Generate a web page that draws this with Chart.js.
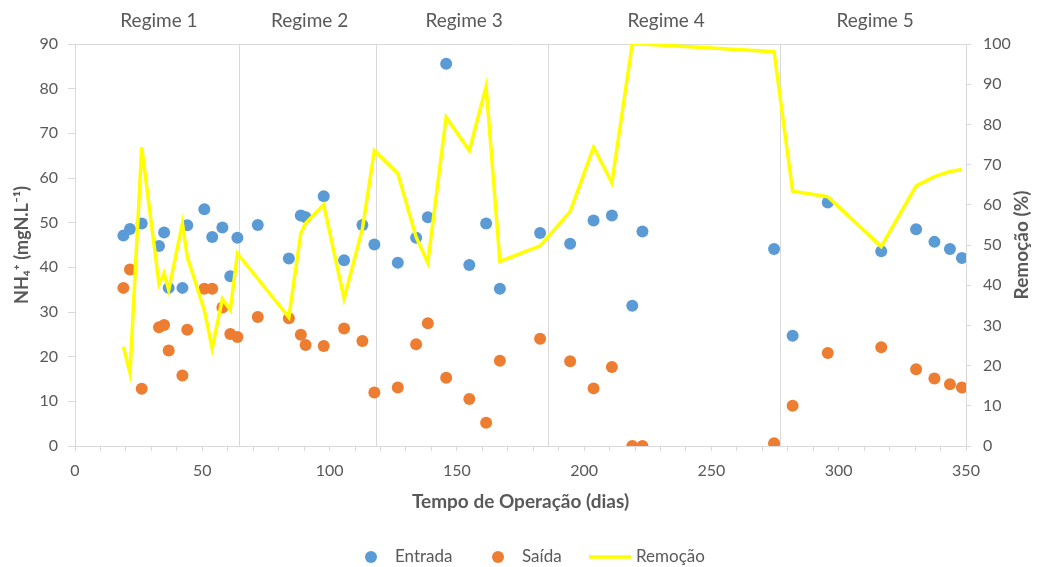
<!DOCTYPE html>
<html>
<head>
<meta charset="utf-8">
<script src="https://cdn.jsdelivr.net/npm/chart.js@4.4.1/dist/chart.umd.min.js"></script>
<style>
  html, body { margin: 0; padding: 0; background: #ffffff; }
  #wrap { width: 1044px; height: 567px; }
</style>
</head>
<body>
<div id="wrap"><canvas id="c" width="1044" height="567"></canvas></div>
<script>
// Sampling days (tempo de operação, dias)
const days = [19, 21.6, 26.2, 33, 35, 36.8, 42.2, 44.1, 50.8, 53.9, 57.9, 61, 63.8, 71.8,
  84, 88.7, 90.6, 97.7, 105.7, 112.9, 117.6, 126.8, 134, 138.6, 145.8, 154.9, 161.5, 166.9,
  182.7, 194.5, 203.7, 210.9, 218.9, 222.9, 274.6, 281.9, 295.7, 316.7, 330.4, 337.6, 343.7, 348.4];

// NH4+ afluente (mgN/L)
const entrada = [47.1, 48.6, 49.8, 44.8, 47.8, 35.4, 35.4, 49.4, 53.0, 46.8, 48.9, 38.0, 46.6, 49.5,
  42.0, 51.6, 51.2, 55.9, 41.6, 49.5, 45.1, 41.0, 46.6, 51.2, 85.6, 40.5, 49.8, 35.2,
  47.7, 45.3, 50.5, 51.6, 31.4, 48.0, 44.1, 24.7, 54.5, 43.6, 48.5, 45.7, 44.1, 42.1];

// NH4+ efluente (mgN/L)
const saida = [35.4, 39.5, 12.8, 26.6, 27.1, 21.4, 15.8, 26.0, 35.2, 35.2, 31.0, 25.1, 24.4, 28.9,
  28.6, 24.9, 22.6, 22.4, 26.3, 23.5, 12.0, 13.1, 22.8, 27.5, 15.3, 10.5, 5.2, 19.1,
  24.0, 19.0, 12.9, 17.7, 0, 0, 0.6, 9.0, 20.8, 22.1, 17.2, 15.1, 13.8, 13.1];

// Remoção de NH4+ (%)
const remocao = [24.7, 18.2, 74.3, 40.3, 43.0, 38.8, 55.4, 47.1, 33.8, 24.3, 36.6, 33.8, 47.9, 41.6,
  32.0, 52.9, 55.4, 60.0, 36.7, 54.0, 73.5, 67.8, 52.0, 45.6, 81.8, 73.5, 89.4, 45.9,
  49.8, 58.3, 74.3, 65.5, 100, 100, 98.1, 63.4, 62.0, 49.6, 64.7, 67.0, 68.3, 68.8];

// Regime changes (dias) and regime names
const regimeBounds = [64.4, 118.3, 185.8, 277];
const regimeNames = ['Regime 1', 'Regime 2', 'Regime 3', 'Regime 4', 'Regime 5'];

const xRange = [0, 350];
const xLabelStep = 50;
const yLeftRange = [0, 90];
const yRightRange = [0, 100];

const seriesNames = ['Entrada', 'Saída', 'Remoção'];
const colors = { entrada: '#5B9BD5', saida: '#ED7D31', remocao: '#FFFF00' };

const FONT = 'Lato, "Open Sans", "Liberation Sans", sans-serif';
const TEXT = '#595959';
const AXIS = '#D9D9D9';

const pts = (ys) => days.map((d, i) => ({ x: d, y: ys[i] }));

const decor = {
  id: 'decor',
  beforeDatasetsDraw(chart) {
    const { ctx, chartArea: a, scales: { x } } = chart;
    ctx.save();
    ctx.strokeStyle = AXIS;
    ctx.lineWidth = 1;
    ctx.beginPath();
    regimeBounds.forEach(b => {
      const px = Math.round(x.getPixelForValue(b)) + 0.5;
      ctx.moveTo(px, a.top);
      ctx.lineTo(px, a.bottom);
    });
    ctx.moveTo(a.left - 7, Math.round(a.top) + 0.5);
    ctx.lineTo(a.right + 5, Math.round(a.top) + 0.5);
    ctx.stroke();
    ctx.restore();
  },
  afterDraw(chart) {
    const { ctx, chartArea: a, scales: { x } } = chart;
    ctx.save();
    // regime labels
    ctx.fillStyle = TEXT;
    ctx.font = '19px ' + FONT;
    ctx.textAlign = 'center';
    ctx.textBaseline = 'middle';
    const edges = [xRange[0], ...regimeBounds, xRange[1]];
    regimeNames.forEach((n, i) => {
      const mid = (edges[i] + edges[i + 1]) / 2;
      ctx.fillText(n, x.getPixelForValue(mid) + 2, 21);
    });
    // right axis title
    ctx.font = 'bold 19px ' + FONT;
    ctx.translate(1022, (a.top + a.bottom) / 2);
    ctx.rotate(-Math.PI / 2);
    ctx.fillText('Remoção (%)', 0, 0);
    ctx.setTransform(1, 0, 0, 1, 0, 0);
    // legend
    const ly = 557;
    ctx.font = '17px ' + FONT;
    ctx.textAlign = 'left';
    ctx.fillStyle = colors.entrada;
    ctx.beginPath(); ctx.arc(371, ly, 6, 0, Math.PI * 2); ctx.fill();
    ctx.fillStyle = TEXT;
    ctx.fillText(seriesNames[0], 395, ly);
    ctx.fillStyle = colors.saida;
    ctx.beginPath(); ctx.arc(498, ly, 6, 0, Math.PI * 2); ctx.fill();
    ctx.fillStyle = TEXT;
    ctx.fillText(seriesNames[1], 522, ly);
    ctx.strokeStyle = colors.remocao;
    ctx.lineWidth = 3.5;
    ctx.beginPath(); ctx.moveTo(589, ly); ctx.lineTo(631, ly); ctx.stroke();
    ctx.fillStyle = TEXT;
    ctx.fillText(seriesNames[2], 636, ly);
    ctx.restore();
  }
};

new Chart(document.getElementById('c'), {
  type: 'scatter',
  data: {
    datasets: [
      {
        label: seriesNames[0], data: pts(entrada), yAxisID: 'y', order: 3,
        backgroundColor: colors.entrada, borderColor: colors.entrada,
        pointRadius: 6, pointBorderWidth: 0, showLine: false
      },
      {
        label: seriesNames[1], data: pts(saida), yAxisID: 'y', order: 2,
        backgroundColor: colors.saida, borderColor: colors.saida,
        pointRadius: 6, pointBorderWidth: 0, showLine: false
      },
      {
        label: seriesNames[2], data: pts(remocao), yAxisID: 'y2', order: 1,
        type: 'line', showLine: true, borderColor: colors.remocao, borderWidth: 3.5,
        pointRadius: 0, tension: 0, fill: false, borderJoinStyle: 'miter'
      }
    ]
  },
  options: {
    responsive: false,
    animation: false,
    devicePixelRatio: 1,
    layout: { padding: { top: 44, left: 0, right: 0, bottom: 0 } },
    plugins: { legend: { display: false }, tooltip: { enabled: false } },
    scales: {
      x: {
        type: 'linear', min: xRange[0], max: xRange[1],
        afterFit: s => { s.height = 121; },
        border: { display: true, color: AXIS, width: 1 },
        grid: { drawOnChartArea: false, drawTicks: true, tickLength: 5, color: AXIS },
        ticks: {
          stepSize: 10, autoSkip: false, maxRotation: 0, padding: 10,
          color: TEXT, font: { family: FONT, size: 16 },
          callback: v => (v % xLabelStep === 0 ? String(v) : '')
        },
        title: {
          display: true, text: 'Tempo de Operação (dias)', color: TEXT,
          font: { family: FONT, size: 19, weight: 'bold' }, padding: { top: 0, bottom: 54 }
        }
      },
      y: {
        position: 'left', min: yLeftRange[0], max: yLeftRange[1],
        afterFit: s => { s.width = 75; },
        border: { display: true, color: AXIS, width: 1 },
        grid: { drawOnChartArea: false, drawTicks: true, tickLength: 7, color: AXIS },
        ticks: { stepSize: 10, padding: 10, color: TEXT, font: { family: FONT, size: 16 } },
        title: {
          display: true, text: 'NH₄⁺ (mgN.L⁻¹)', color: TEXT,
          font: { family: FONT, size: 18, weight: 'bold' }, padding: { top: 11, bottom: 0 }
        }
      },
      y2: {
        position: 'right', min: yRightRange[0], max: yRightRange[1],
        afterFit: s => { s.width = 78; },
        border: { display: true, color: AXIS, width: 1 },
        grid: { drawOnChartArea: false, drawTicks: true, tickLength: 5, color: AXIS },
        ticks: { stepSize: 10, padding: 12, color: TEXT, font: { family: FONT, size: 16 } }
      }
    }
  },
  plugins: [decor]
});
</script>
</body>
</html>
